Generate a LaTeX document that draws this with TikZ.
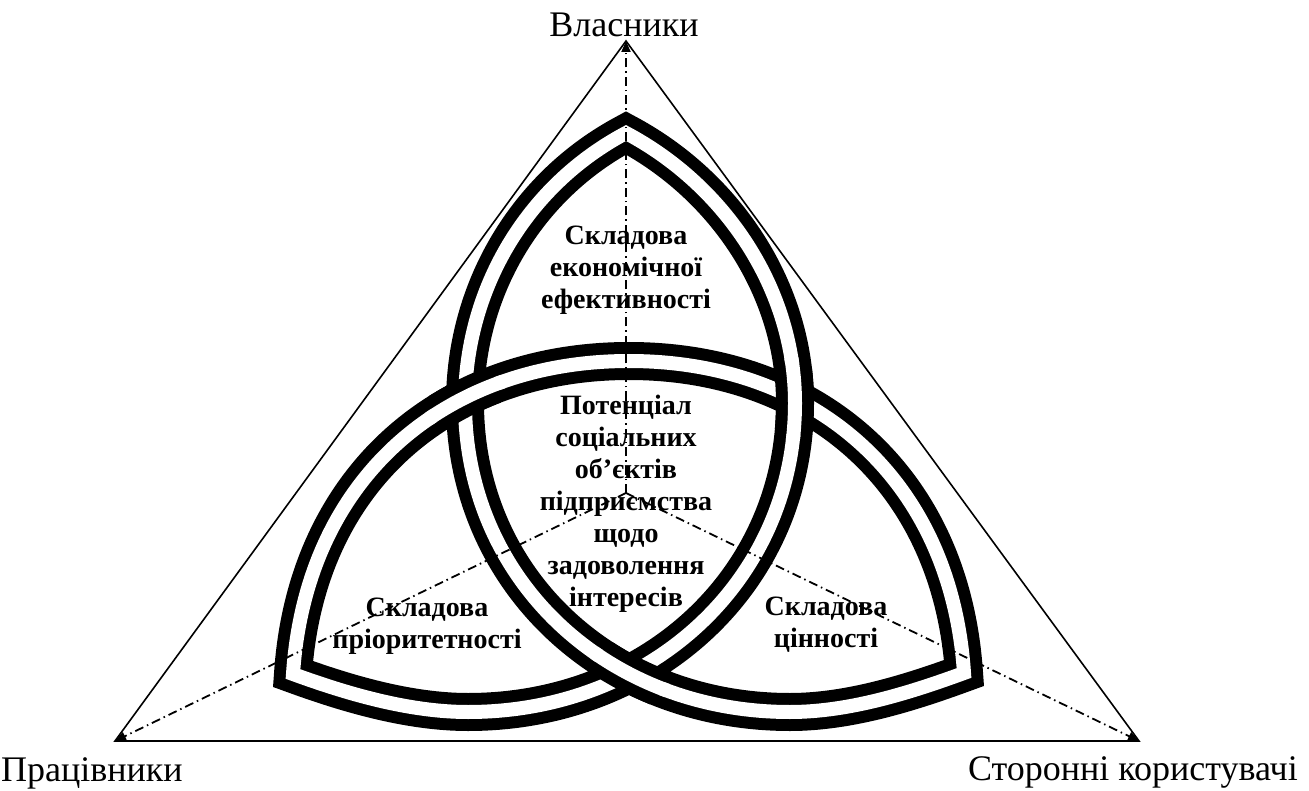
\documentclass[tikz,border=0pt]{standalone}
\usepackage{fontspec}
\setmainfont{Liberation Serif}
\usetikzlibrary{arrows.meta}
% the three interlaced loops as one closed outline (y grows downwards)
\newcommand\knotoutline{(626,133)
  .. controls (526,186) and (465,290) .. (465,403)
  .. controls (465,578) and (605,712) .. (790,712)
  .. controls (850,712) and (912,692) .. (964,673)
  .. controls (951,478) and (813,361) .. (629,361)
  .. controls (444,361) and (306,479) .. (293,674)
  .. controls (345,693) and (408,712) .. (468,712)
  .. controls (653,712) and (795,578) .. (795,403)
  .. controls (795,290) and (726,186) .. (626,133) -- cycle}
% pieces of the loops that pass over at the crossings
\newcommand\overleft{(629,361) .. controls (444,361) and (306,479) .. (293,674)}
\newcommand\overright{(468,712) .. controls (653,712) and (795,578) .. (795,403)
  .. controls (795,290) and (726,186) .. (626,133)}
\newcommand\overbottom{(465,403) .. controls (465,578) and (605,712) .. (790,712)}
% redraw one crossing: black band in a small disc, white core in a slightly larger one
\newcommand\crossover[2]{%
  \begin{scope}\clip #1 circle (36); \draw[band] #2; \end{scope}
  \begin{scope}\clip #1 circle (42); \draw[gap] #2; \end{scope}}
\begin{document}
\begin{tikzpicture}[x=1pt,y=-1pt,
  band/.style={line width=38pt, draw=black, line join=miter},
  gap/.style={line width=14pt, draw=white, line join=miter},
  axisline/.style={line width=1.8pt, dash pattern=on 9pt off 4pt on 1.5pt off 4pt,
    -{Triangle[length=11pt,width=9pt]}},
  corner/.style={font=\fontsize{36}{40}\selectfont, inner sep=0pt},
  part/.style={font=\bfseries\fontsize{28}{32}\selectfont, align=center, inner sep=0pt}]
\fill[white] (0,0) rectangle (1309,791);
\useasboundingbox (0,0) rectangle (1309,791);

% vertices of the outer triangle and its centre
\coordinate (own) at (626,41);
\coordinate (emp) at (115,741);
\coordinate (ext) at (1139,741);
\coordinate (ctr) at (626,493);
\draw[line width=1.6pt, line join=miter] (own) -- (emp) -- (ext) -- cycle;

% interlaced loops: a black band with a white core
\draw[band] \knotoutline;
\draw[gap] \knotoutline;
\crossover{(465,399)}{\overleft}
\crossover{(795,399)}{\overright}
\crossover{(629,675)}{\overbottom}

% axes from the centre to the vertices
\draw[axisline] (ctr) -- (own);
\draw[axisline] (ctr) -- (emp);
\draw[axisline] (ctr) -- (ext);

% labels at the vertices
\node[corner, anchor=base] (lown) at (624,37) {Власники};
\node[corner, anchor=base west] (lemp) at (1,781) {Працівники};
\node[corner, anchor=base east] (lext) at (1298,780) {Сторонні користувачі};

% labels of the components
\node[part] (econ) at (626,270) {Складова\\економічної\\ефективності};
\node[part] (core) at (626,504) {Потенціал\\соціальних\\об’єктів\\підприємства\\щодо\\задоволення\\інтересів};
\node[part] (prio) at (427,626) {Складова\\пріоритетності};
\node[part] (value) at (826,625) {Складова\\цінності};
\end{tikzpicture}
\end{document}
